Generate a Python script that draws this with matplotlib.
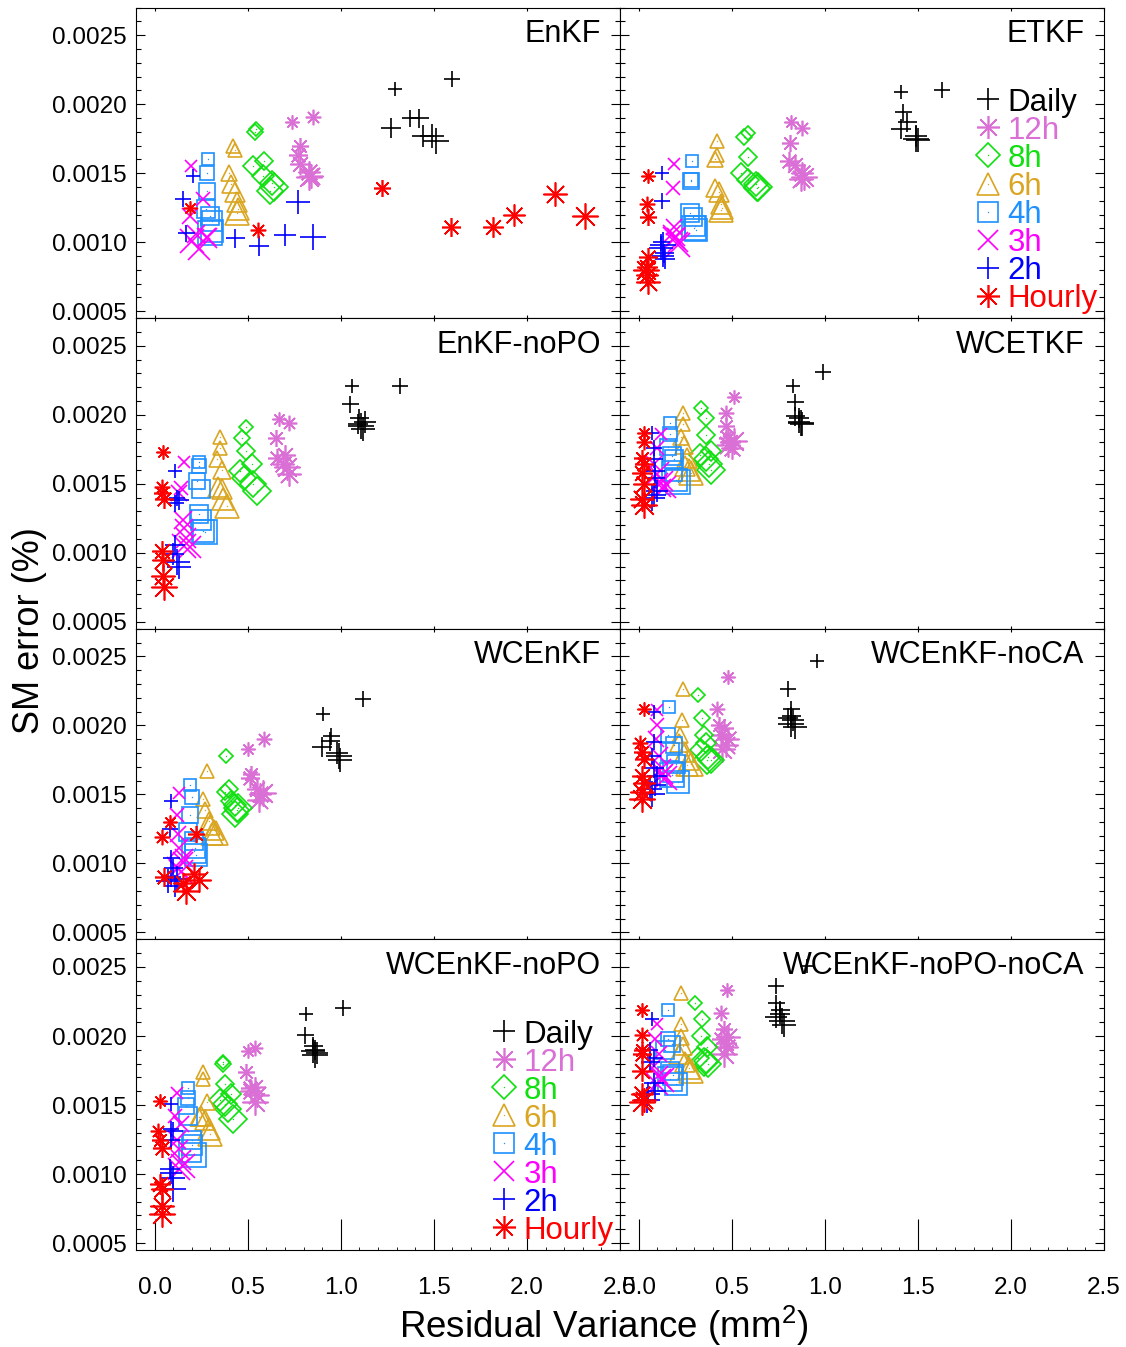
import numpy as np
import matplotlib
matplotlib.use("Agg")
import matplotlib.pyplot as plt
from matplotlib.ticker import MultipleLocator, FormatStrFormatter

plt.rcParams["font.family"] = ["Liberation Sans", "DejaVu Sans"]
plt.rcParams["mathtext.fontset"] = "custom"
plt.rcParams["mathtext.rm"] = "Liberation Sans"
plt.rcParams["mathtext.it"] = "Liberation Sans"

# ---------------- data ----------------
# group order: Daily, 12h, 8h, 6h, 4h, 3h, 2h, Hourly
freqs = ["Daily", "12h", "8h", "6h", "4h", "3h", "2h", "Hourly"]
panels = ["EnKF", "ETKF", "EnKF-noPO", "WCETKF",
          "WCEnKF", "WCEnKF-noCA", "WCEnKF-noPO", "WCEnKF-noPO-noCA"]

enkf_x = [[1.29, 1.60, 1.37, 1.42, 1.27, 1.44, 1.49, 1.51],
          [0.738, 0.85, 0.78, 0.77, 0.78, 0.83, 0.84, 0.83],
          [0.545, 0.54, 0.59, 0.53, 0.58, 0.63, 0.62, 0.64],
          [0.42, 0.43, 0.40, 0.41, 0.43, 0.44, 0.45, 0.44],
          [0.285, 0.283, 0.28, 0.274, 0.30, 0.31, 0.31, 0.30],
          [0.197, 0.26, 0.19, 0.22, 0.28, 0.28, 0.24, 0.20],
          [0.206, 0.15, 0.17, 0.43, 0.56, 0.70, 0.77, 0.85],
          [0.19, 0.555, 1.22, 1.59, 1.82, 1.93, 2.15, 2.31]]
enkf_y = [[0.00211, 0.00218, 0.00190, 0.00190, 0.00183, 0.00177, 0.00177, 0.00173],
          [0.00187, 0.00191, 0.00170, 0.00163, 0.00157, 0.00151, 0.00148, 0.00147],
          [0.00182, 0.00180, 0.00159, 0.00155, 0.00148, 0.00143, 0.00137, 0.00140],
          [0.00170, 0.00167, 0.00150, 0.00142, 0.00136, 0.00129, 0.00124, 0.00121],
          [0.00160, 0.00150, 0.00137, 0.00124, 0.00119, 0.00115, 0.00108, 0.00107],
          [0.00155, 0.00131, 0.00119, 0.00106, 0.00104, 0.00103, 0.00095, 0.00101],
          [0.00148, 0.00131, 0.00107, 0.00103, 0.00097, 0.00105, 0.00129, 0.00104],
          [0.00125, 0.00109, 0.00139, 0.00111, 0.00111, 0.00120, 0.00135, 0.00119]]

etkf_x = [[1.41, 1.63, 1.42, 1.44, 1.41, 1.49, 1.50, 1.49],
          [0.82, 0.88, 0.815, 0.81, 0.84, 0.88, 0.87, 0.89],
          [0.586, 0.565, 0.59, 0.55, 0.59, 0.63, 0.635, 0.64],
          [0.42, 0.42, 0.41, 0.41, 0.43, 0.44, 0.45, 0.44],
          [0.287, 0.28, 0.28, 0.278, 0.29, 0.305, 0.31, 0.30],
          [0.19, 0.185, 0.19, 0.20, 0.18, 0.21, 0.19, 0.21],
          [0.125, 0.125, 0.12, 0.134, 0.14, 0.13, 0.12, 0.13],
          [0.05, 0.045, 0.05, 0.05, 0.045, 0.045, 0.05, 0.04]]
etkf_y = [[0.00209, 0.00210, 0.00194, 0.00187, 0.00182, 0.00177, 0.00174, 0.00175],
          [0.00187, 0.00183, 0.00172, 0.00159, 0.00156, 0.00150, 0.00146, 0.00147],
          [0.00179, 0.00176, 0.00162, 0.00150, 0.00145, 0.00142, 0.00139, 0.00140],
          [0.00173, 0.00163, 0.00160, 0.00139, 0.00136, 0.00128, 0.00125, 0.00123],
          [0.00159, 0.00145, 0.00144, 0.00121, 0.00118, 0.00112, 0.00109, 0.00110],
          [0.00157, 0.00139, 0.00111, 0.00104, 0.00106, 0.00100, 0.00103, 0.00098],
          [0.00150, 0.00130, 0.00100, 0.00092, 0.00088, 0.00090, 0.00096, 0.00098],
          [0.00148, 0.00128, 0.00118, 0.00089, 0.00082, 0.00076, 0.00071, 0.00080]]

enkf_nopo_x = [[1.06, 1.32, 1.05, 1.10, 1.09, 1.13, 1.12, 1.11],
               [0.67, 0.72, 0.65, 0.66, 0.70, 0.69, 0.72, 0.71],
               [0.49, 0.47, 0.49, 0.525, 0.46, 0.48, 0.53, 0.55],
               [0.35, 0.35, 0.335, 0.36, 0.34, 0.36, 0.37, 0.39],
               [0.24, 0.24, 0.23, 0.25, 0.24, 0.25, 0.26, 0.27],
               [0.16, 0.14, 0.13, 0.15, 0.16, 0.17, 0.19, 0.16],
               [0.11, 0.12, 0.11, 0.13, 0.11, 0.10, 0.13, 0.12],
               [0.045, 0.04, 0.04, 0.05, 0.04, 0.045, 0.045, 0.05]]
enkf_nopo_y = [[0.00221, 0.00221, 0.00208, 0.00198, 0.00193, 0.00195, 0.00190, 0.00192],
               [0.00197, 0.00194, 0.00183, 0.00169, 0.00171, 0.00164, 0.00157, 0.00162],
               [0.00191, 0.00183, 0.00174, 0.00164, 0.00159, 0.00154, 0.00150, 0.00145],
               [0.00184, 0.00176, 0.00168, 0.00160, 0.00148, 0.00146, 0.00139, 0.00134],
               [0.00166, 0.00163, 0.00152, 0.00146, 0.00128, 0.00124, 0.00116, 0.00115],
               [0.00166, 0.00147, 0.00143, 0.00124, 0.00118, 0.00111, 0.00104, 0.00105],
               [0.00159, 0.00140, 0.00136, 0.00138, 0.00106, 0.00099, 0.00090, 0.00093],
               [0.00173, 0.00148, 0.00143, 0.00139, 0.00101, 0.00095, 0.00083, 0.00075]]

wcetkf_x = [[0.83, 0.99, 0.84, 0.84, 0.86, 0.86, 0.88, 0.87],
            [0.51, 0.47, 0.47, 0.48, 0.49, 0.50, 0.48, 0.51],
            [0.335, 0.36, 0.36, 0.39, 0.33, 0.36, 0.38, 0.39],
            [0.24, 0.24, 0.23, 0.245, 0.26, 0.25, 0.27, 0.28],
            [0.17, 0.17, 0.16, 0.18, 0.19, 0.18, 0.20, 0.21],
            [0.12, 0.10, 0.08, 0.11, 0.125, 0.13, 0.14, 0.10],
            [0.07, 0.08, 0.08, 0.09, 0.09, 0.10, 0.085, 0.07],
            [0.03, 0.03, 0.02, 0.03, 0.02, 0.03, 0.02, 0.03]]
wcetkf_y = [[0.00221, 0.00231, 0.00209, 0.00199, 0.00198, 0.00195, 0.00193, 0.00194],
            [0.00213, 0.00201, 0.00192, 0.00183, 0.00180, 0.00176, 0.00178, 0.00181],
            [0.00205, 0.00198, 0.00185, 0.00174, 0.00171, 0.00168, 0.00164, 0.00160],
            [0.00201, 0.00193, 0.00184, 0.00178, 0.00169, 0.00163, 0.00160, 0.00158],
            [0.00194, 0.00186, 0.00177, 0.00170, 0.00168, 0.00159, 0.00153, 0.00151],
            [0.00186, 0.00176, 0.00164, 0.00151, 0.00147, 0.00152, 0.00148, 0.00157],
            [0.00187, 0.00176, 0.00168, 0.00159, 0.00154, 0.00145, 0.00142, 0.00140],
            [0.00187, 0.00180, 0.00169, 0.00164, 0.00158, 0.00150, 0.00139, 0.00135]]

wcenkf_x = [[0.905, 1.12, 0.95, 0.94, 0.90, 0.98, 0.995, 0.99],
            [0.50, 0.59, 0.52, 0.51, 0.55, 0.565, 0.56, 0.58],
            [0.385, 0.38, 0.40, 0.41, 0.43, 0.44, 0.43, 0.45],
            [0.28, 0.26, 0.27, 0.29, 0.30, 0.32, 0.31, 0.33],
            [0.19, 0.20, 0.19, 0.18, 0.21, 0.215, 0.22, 0.21],
            [0.13, 0.12, 0.125, 0.13, 0.16, 0.15, 0.125, 0.14],
            [0.09, 0.08, 0.09, 0.10, 0.09, 0.11, 0.07, 0.12],
            [0.08, 0.04, 0.22, 0.05, 0.15, 0.21, 0.24, 0.17]]
wcenkf_y = [[0.00208, 0.00219, 0.00192, 0.00189, 0.00184, 0.00180, 0.00175, 0.00178],
            [0.00183, 0.00190, 0.00165, 0.00162, 0.00154, 0.00150, 0.00146, 0.00151],
            [0.00178, 0.00152, 0.00154, 0.00145, 0.00142, 0.00139, 0.00136, 0.00140],
            [0.00167, 0.00147, 0.00139, 0.00131, 0.00128, 0.00124, 0.00121, 0.00122],
            [0.00157, 0.00148, 0.00135, 0.00123, 0.00116, 0.00111, 0.00106, 0.00109],
            [0.00151, 0.00135, 0.00121, 0.00111, 0.00104, 0.00101, 0.00097, 0.00094],
            [0.00145, 0.00125, 0.00104, 0.00097, 0.00090, 0.00084, 0.00087, 0.00089],
            [0.00130, 0.00119, 0.00121, 0.00090, 0.00086, 0.00092, 0.00088, 0.00080]]

wcenkf_noca_x = [[0.96, 0.80, 0.82, 0.82, 0.80, 0.83, 0.84, 0.82],
                 [0.48, 0.42, 0.43, 0.46, 0.44, 0.48, 0.47, 0.45],
                 [0.32, 0.34, 0.35, 0.36, 0.335, 0.375, 0.39, 0.37],
                 [0.24, 0.235, 0.22, 0.215, 0.25, 0.27, 0.26, 0.28],
                 [0.165, 0.16, 0.19, 0.17, 0.20, 0.185, 0.21, 0.18],
                 [0.10, 0.10, 0.095, 0.11, 0.125, 0.13, 0.12, 0.14],
                 [0.08, 0.08, 0.07, 0.08, 0.10, 0.09, 0.06, 0.07],
                 [0.03, 0.01, 0.02, 0.03, 0.02, 0.03, 0.02, 0.02]]
wcenkf_noca_y = [[0.00247, 0.00226, 0.00212, 0.00207, 0.00205, 0.00204, 0.00199, 0.00201],
                 [0.00235, 0.00212, 0.00200, 0.00198, 0.00193, 0.00190, 0.00186, 0.00183],
                 [0.00222, 0.00205, 0.00193, 0.00187, 0.00182, 0.00177, 0.00175, 0.00175],
                 [0.00226, 0.00204, 0.00193, 0.00187, 0.00181, 0.00175, 0.00171, 0.00172],
                 [0.00213, 0.00193, 0.00186, 0.00181, 0.00172, 0.00166, 0.00159, 0.00164],
                 [0.00211, 0.00200, 0.00190, 0.00178, 0.00169, 0.00165, 0.00163, 0.00162],
                 [0.00210, 0.00188, 0.00178, 0.00169, 0.00163, 0.00157, 0.00154, 0.00150],
                 [0.00212, 0.00187, 0.00181, 0.00176, 0.00163, 0.00158, 0.00152, 0.00147]]

wcenkf_nopo_x = [[0.815, 1.01, 0.81, 0.85, 0.86, 0.87, 0.85, 0.86],
                 [0.50, 0.54, 0.49, 0.51, 0.54, 0.52, 0.55, 0.54],
                 [0.37, 0.37, 0.38, 0.41, 0.35, 0.38, 0.395, 0.42],
                 [0.26, 0.26, 0.28, 0.24, 0.27, 0.25, 0.29, 0.30],
                 [0.18, 0.18, 0.17, 0.18, 0.20, 0.20, 0.19, 0.21],
                 [0.12, 0.11, 0.14, 0.12, 0.13, 0.14, 0.13, 0.15],
                 [0.09, 0.09, 0.09, 0.10, 0.08, 0.09, 0.10, 0.10],
                 [0.03, 0.02, 0.03, 0.04, 0.03, 0.04, 0.04, 0.04]]
wcenkf_nopo_y = [[0.00216, 0.00220, 0.00201, 0.00193, 0.00190, 0.00188, 0.00189, 0.00186],
                 [0.00189, 0.00191, 0.00174, 0.00162, 0.00163, 0.00160, 0.00157, 0.00152],
                 [0.00181, 0.00180, 0.00165, 0.00158, 0.00154, 0.00151, 0.00147, 0.00140],
                 [0.00174, 0.00169, 0.00152, 0.00141, 0.00139, 0.00142, 0.00133, 0.00129],
                 [0.00162, 0.00155, 0.00149, 0.00142, 0.00125, 0.00121, 0.00117, 0.00114],
                 [0.00159, 0.00142, 0.00136, 0.00125, 0.00118, 0.00110, 0.00104, 0.00106],
                 [0.00151, 0.00133, 0.00125, 0.00131, 0.00104, 0.00101, 0.00097, 0.00089],
                 [0.00153, 0.00131, 0.00125, 0.00119, 0.00093, 0.00089, 0.00077, 0.00071]]

wcenkf_nopo_noca_x = [[0.905, 0.74, 0.74, 0.76, 0.76, 0.74, 0.78, 0.77],
                      [0.475, 0.44, 0.46, 0.44, 0.47, 0.475, 0.48, 0.46],
                      [0.305, 0.34, 0.335, 0.37, 0.32, 0.36, 0.375, 0.35],
                      [0.23, 0.23, 0.23, 0.24, 0.215, 0.25, 0.27, 0.28],
                      [0.16, 0.16, 0.18, 0.14, 0.17, 0.185, 0.20, 0.17],
                      [0.10, 0.09, 0.11, 0.08, 0.11, 0.12, 0.10, 0.125],
                      [0.07, 0.06, 0.08, 0.06, 0.08, 0.09, 0.05, 0.045],
                      [0.02, 0.02, 0.02, 0.02, 0.02, 0.02, 0.03, 0.02]]
wcenkf_nopo_noca_y = [[0.00251, 0.00236, 0.00224, 0.00219, 0.00216, 0.00214, 0.00208, 0.00211],
                      [0.00233, 0.00217, 0.00205, 0.00198, 0.00195, 0.00192, 0.00199, 0.00187],
                      [0.00224, 0.00212, 0.00200, 0.00192, 0.00184, 0.00182, 0.00180, 0.00181],
                      [0.00231, 0.00209, 0.00199, 0.00193, 0.00187, 0.00181, 0.00177, 0.00175],
                      [0.00219, 0.00198, 0.00194, 0.00190, 0.00175, 0.00172, 0.00165, 0.00169],
                      [0.00209, 0.00198, 0.00187, 0.00178, 0.00172, 0.00169, 0.00165, 0.00168],
                      [0.00212, 0.00190, 0.00184, 0.00181, 0.00166, 0.00160, 0.00158, 0.00154],
                      [0.00219, 0.00201, 0.00190, 0.00187, 0.00175, 0.00158, 0.00154, 0.00152]]

xticks = [0.0, 0.5, 1.0, 1.5, 2.0, 2.5]
yticks = [0.0005, 0.0010, 0.0015, 0.0020, 0.0025]

panel_x = [enkf_x, etkf_x, enkf_nopo_x, wcetkf_x,
           wcenkf_x, wcenkf_noca_x, wcenkf_nopo_x, wcenkf_nopo_noca_x]
panel_y = [enkf_y, etkf_y, enkf_nopo_y, wcetkf_y,
           wcenkf_y, wcenkf_noca_y, wcenkf_nopo_y, wcenkf_nopo_noca_y]

# ---------------- styles ----------------
colors = ["black", "orchid", "#10E010", "goldenrod",
          "dodgerblue", "magenta", "blue", "red"]
ASTER = (8, 2, 0)  # IDL style asterisk (+ and x together)
markers = ["+", ASTER, "D", "^", "s", "x", "+", ASTER]
mscale = [1.0, 1.0, 0.74, 0.95, 0.9, 0.9, 1.0, 1.0]
centre_dot = [False, False, True, True, True, False, False, False]
size_px = [14, 15.5, 17, 19, 20.5, 22, 24, 26]
PX = 72.0 / 100.0  # pixels -> points

fig = plt.figure(figsize=(11.26, 13.47), dpi=100)
gs = fig.add_gridspec(4, 2, left=136 / 1126, right=1104 / 1126,
                      top=1 - 7.5 / 1347, bottom=1 - 1250 / 1347,
                      hspace=0, wspace=0)

for k, name in enumerate(panels):
    row, col = divmod(k, 2)
    ax = fig.add_subplot(gs[row, col])
    xs, ys = panel_x[k], panel_y[k]
    for g in range(len(freqs)):
        for i in range(len(xs[g])):
            ms = size_px[i] * mscale[g] * PX
            ax.plot(xs[g][i], ys[g][i], linestyle="none", marker=markers[g],
                    ms=ms, mfc="none", mec=colors[g], mew=1.2)
        if centre_dot[g]:
            ax.plot(xs[g], ys[g], linestyle="none", marker="o", ms=1.0,
                    mfc=colors[g], mec="none")

    ax.set_xlim(-0.1, 2.5)
    ax.set_ylim(0.00045, 0.0027)
    ax.set_xticks(xticks)
    ax.set_yticks(yticks)
    ax.yaxis.set_minor_locator(MultipleLocator(0.0001))
    ax.xaxis.set_major_formatter(FormatStrFormatter("%.1f"))
    ax.yaxis.set_major_formatter(FormatStrFormatter("%.4f"))

    ax.tick_params(axis="y", which="both", direction="in", left=True, right=True,
                   width=0.8, labelsize=17.5, pad=6.5, labelleft=(col == 0))
    ax.tick_params(axis="y", which="major", length=6.5)
    ax.tick_params(axis="y", which="minor", length=3.6)
    if row == 3:
        ax.xaxis.set_minor_locator(MultipleLocator(0.1))
        ax.tick_params(axis="x", which="major", direction="in", top=False,
                       length=22, width=0.8, labelsize=17.5, pad=19.5)
        ax.tick_params(axis="x", which="minor", direction="in", top=False,
                       length=2.5, width=0.6)
    else:
        ax.tick_params(axis="x", which="major", direction="in", top=True,
                       length=2.2, width=0.8, labelbottom=False)
    for sp in ax.spines.values():
        sp.set_linewidth(0.8)

    ax.text(0.96, 0.889, name, transform=ax.transAxes, ha="right",
            va="baseline", fontsize=22)

    # legend in ETKF and WCEnKF-noPO panels
    if name in ("ETKF", "WCEnKF-noPO"):
        for g, lab in enumerate(freqs):
            yy = 0.704 - g * 0.0902
            ax.plot(0.76, yy, transform=ax.transAxes, linestyle="none",
                    marker=markers[g], ms=23 * mscale[g] * PX, mfc="none",
                    mec=colors[g], mew=1.2, clip_on=False)
            if centre_dot[g]:
                ax.plot(0.76, yy, transform=ax.transAxes, linestyle="none",
                        marker="o", ms=1.0, mfc=colors[g], mec="none",
                        clip_on=False)
            ax.text(0.801, yy - 0.036, lab, transform=ax.transAxes,
                    color=colors[g], fontsize=22.5, ha="left", va="baseline",
                    clip_on=False)

fig.text(0.026, 0.532, "SM error (%)", rotation=90, ha="center", va="center",
         fontsize=26)
fig.text(0.536, 1 - 1338 / 1347, r"Residual Variance (mm$^{2}$)", ha="center",
         va="baseline", fontsize=26.5)

fig.savefig("out.png", dpi=100)
